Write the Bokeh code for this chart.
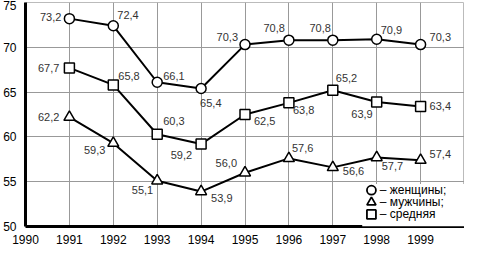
from bokeh.plotting import figure
from bokeh.models import ColumnDataSource, FixedTicker, Range1d, Label, BoxAnnotation
from bokeh.core.properties import value
from bokeh.embed import file_html
from bokeh.resources import INLINE

years = [1991, 1992, 1993, 1994, 1995, 1996, 1997, 1998, 1999]
women = [73.2, 72.4, 66.1, 65.4, 70.3, 70.8, 70.8, 70.9, 70.3]
men = [62.2, 59.3, 55.1, 53.9, 56.0, 57.6, 56.6, 57.7, 57.4]
avg = [67.7, 65.8, 60.3, 59.2, 62.5, 63.8, 65.2, 63.9, 63.4]
legend_labels = ["– женщины;", "– мужчины;", "– средняя"]
legend_markers = ["circle", "triangle", "square"]

# label placement (pixel offsets, alignment) per point
women_dx = [-8, 4, 6, -1, -7, -4, -2, 4, 9]
women_dy = [-2, -11, -6, 14, -8, -12, -12, -9, -8]
women_al = ["right", "left", "left", "left", "right", "right", "right", "left", "left"]
avg_dx = [-10, 5, 6, -9, 9, 4, 3, -4, 9]
avg_dy = [0, -9, -13, 11, 6, 7, -12, 12, 0]
avg_al = ["right", "left", "left", "right", "left", "left", "left", "right", "left"]
men_dx = [-10, -8, -4, 10, -8, 3, 10, 5, 9]
men_dy = [0, 7, 9, 6, -10, -10, 4, 8, -6]
men_al = ["right", "right", "right", "left", "right", "left", "left", "left", "left"]

# legend placement (annotation, in data units of the frame)
legend_sym_x = 1997.88
legend_text_x = 1998.07
legend_rows_y = [54.05, 52.7, 51.35]
legend_box = dict(left=1997.67, right=2000, bottom=50, top=54.75)

FONT = "Liberation Sans"

p = figure(width=464, height=246, output_backend="svg", toolbar_location=None,
           x_range=Range1d(1990, 2000), y_range=Range1d(50, 75),
           min_border_left=20, min_border_right=0, min_border_top=2, min_border_bottom=16)

p.outline_line_color = "#bbbbbb"
p.outline_line_width = 1
p.xgrid.grid_line_color = "#999999"
p.ygrid.grid_line_color = "#999999"
p.xgrid.grid_line_width = 1
p.ygrid.grid_line_width = 1
p.xaxis.ticker = FixedTicker(ticks=list(range(1990, 2000)))
p.yaxis.ticker = FixedTicker(ticks=[50, 55, 60, 65, 70, 75])
for ax in (p.xaxis[0], p.yaxis[0]):
    ax.axis_line_color = "black"
    ax.axis_line_width = 3
    ax.major_tick_line_color = None
    ax.minor_tick_line_color = None
    ax.major_label_text_font = FONT
    ax.major_label_text_font_size = "12px"
    ax.major_label_text_color = "black"
p.xaxis.major_label_standoff = 2
p.yaxis.major_label_standoff = 3

for vals, marker, size, dx, dy, al in [
    (women, "circle", 10, women_dx, women_dy, women_al),
    (men, "triangle", 11, men_dx, men_dy, men_al),
    (avg, "square", 10, avg_dx, avg_dy, avg_al),
]:
    src = ColumnDataSource(dict(
        x=years, y=vals,
        lab=[f"{v:.1f}".replace(".", ",") for v in vals],
        dx=dx, dy=dy, al=al))
    p.line("x", "y", source=src, line_color="black", line_width=2)
    p.scatter("x", "y", source=src, marker=marker, size=size,
              fill_color="white", line_color="black", line_width=1.5)
    p.text("x", "y", text="lab", source=src, x_offset="dx", y_offset="dy",
           text_align="al", text_baseline="middle",
           text_font=value(FONT), text_font_size="11px", text_color="#333333")

# legend: white box + marker keys + labels
p.add_layout(BoxAnnotation(fill_color="white", fill_alpha=1, line_alpha=0, level="annotation",
                           **legend_box))
leg_src = ColumnDataSource(dict(x=[legend_sym_x] * 3, y=legend_rows_y, m=legend_markers))
keys = p.scatter("x", "y", source=leg_src, marker="m", size=9,
                 fill_color="white", line_color="black", line_width=1.8)
keys.level = "overlay"
for lab, yy in zip(legend_labels, legend_rows_y):
    p.add_layout(Label(x=legend_text_x, y=yy, text=lab, text_align="left",
                       text_baseline="middle", text_font=FONT,
                       text_font_size="12px", text_color="black", level="overlay"))

open("out.html", "w").write(file_html(p, INLINE))
